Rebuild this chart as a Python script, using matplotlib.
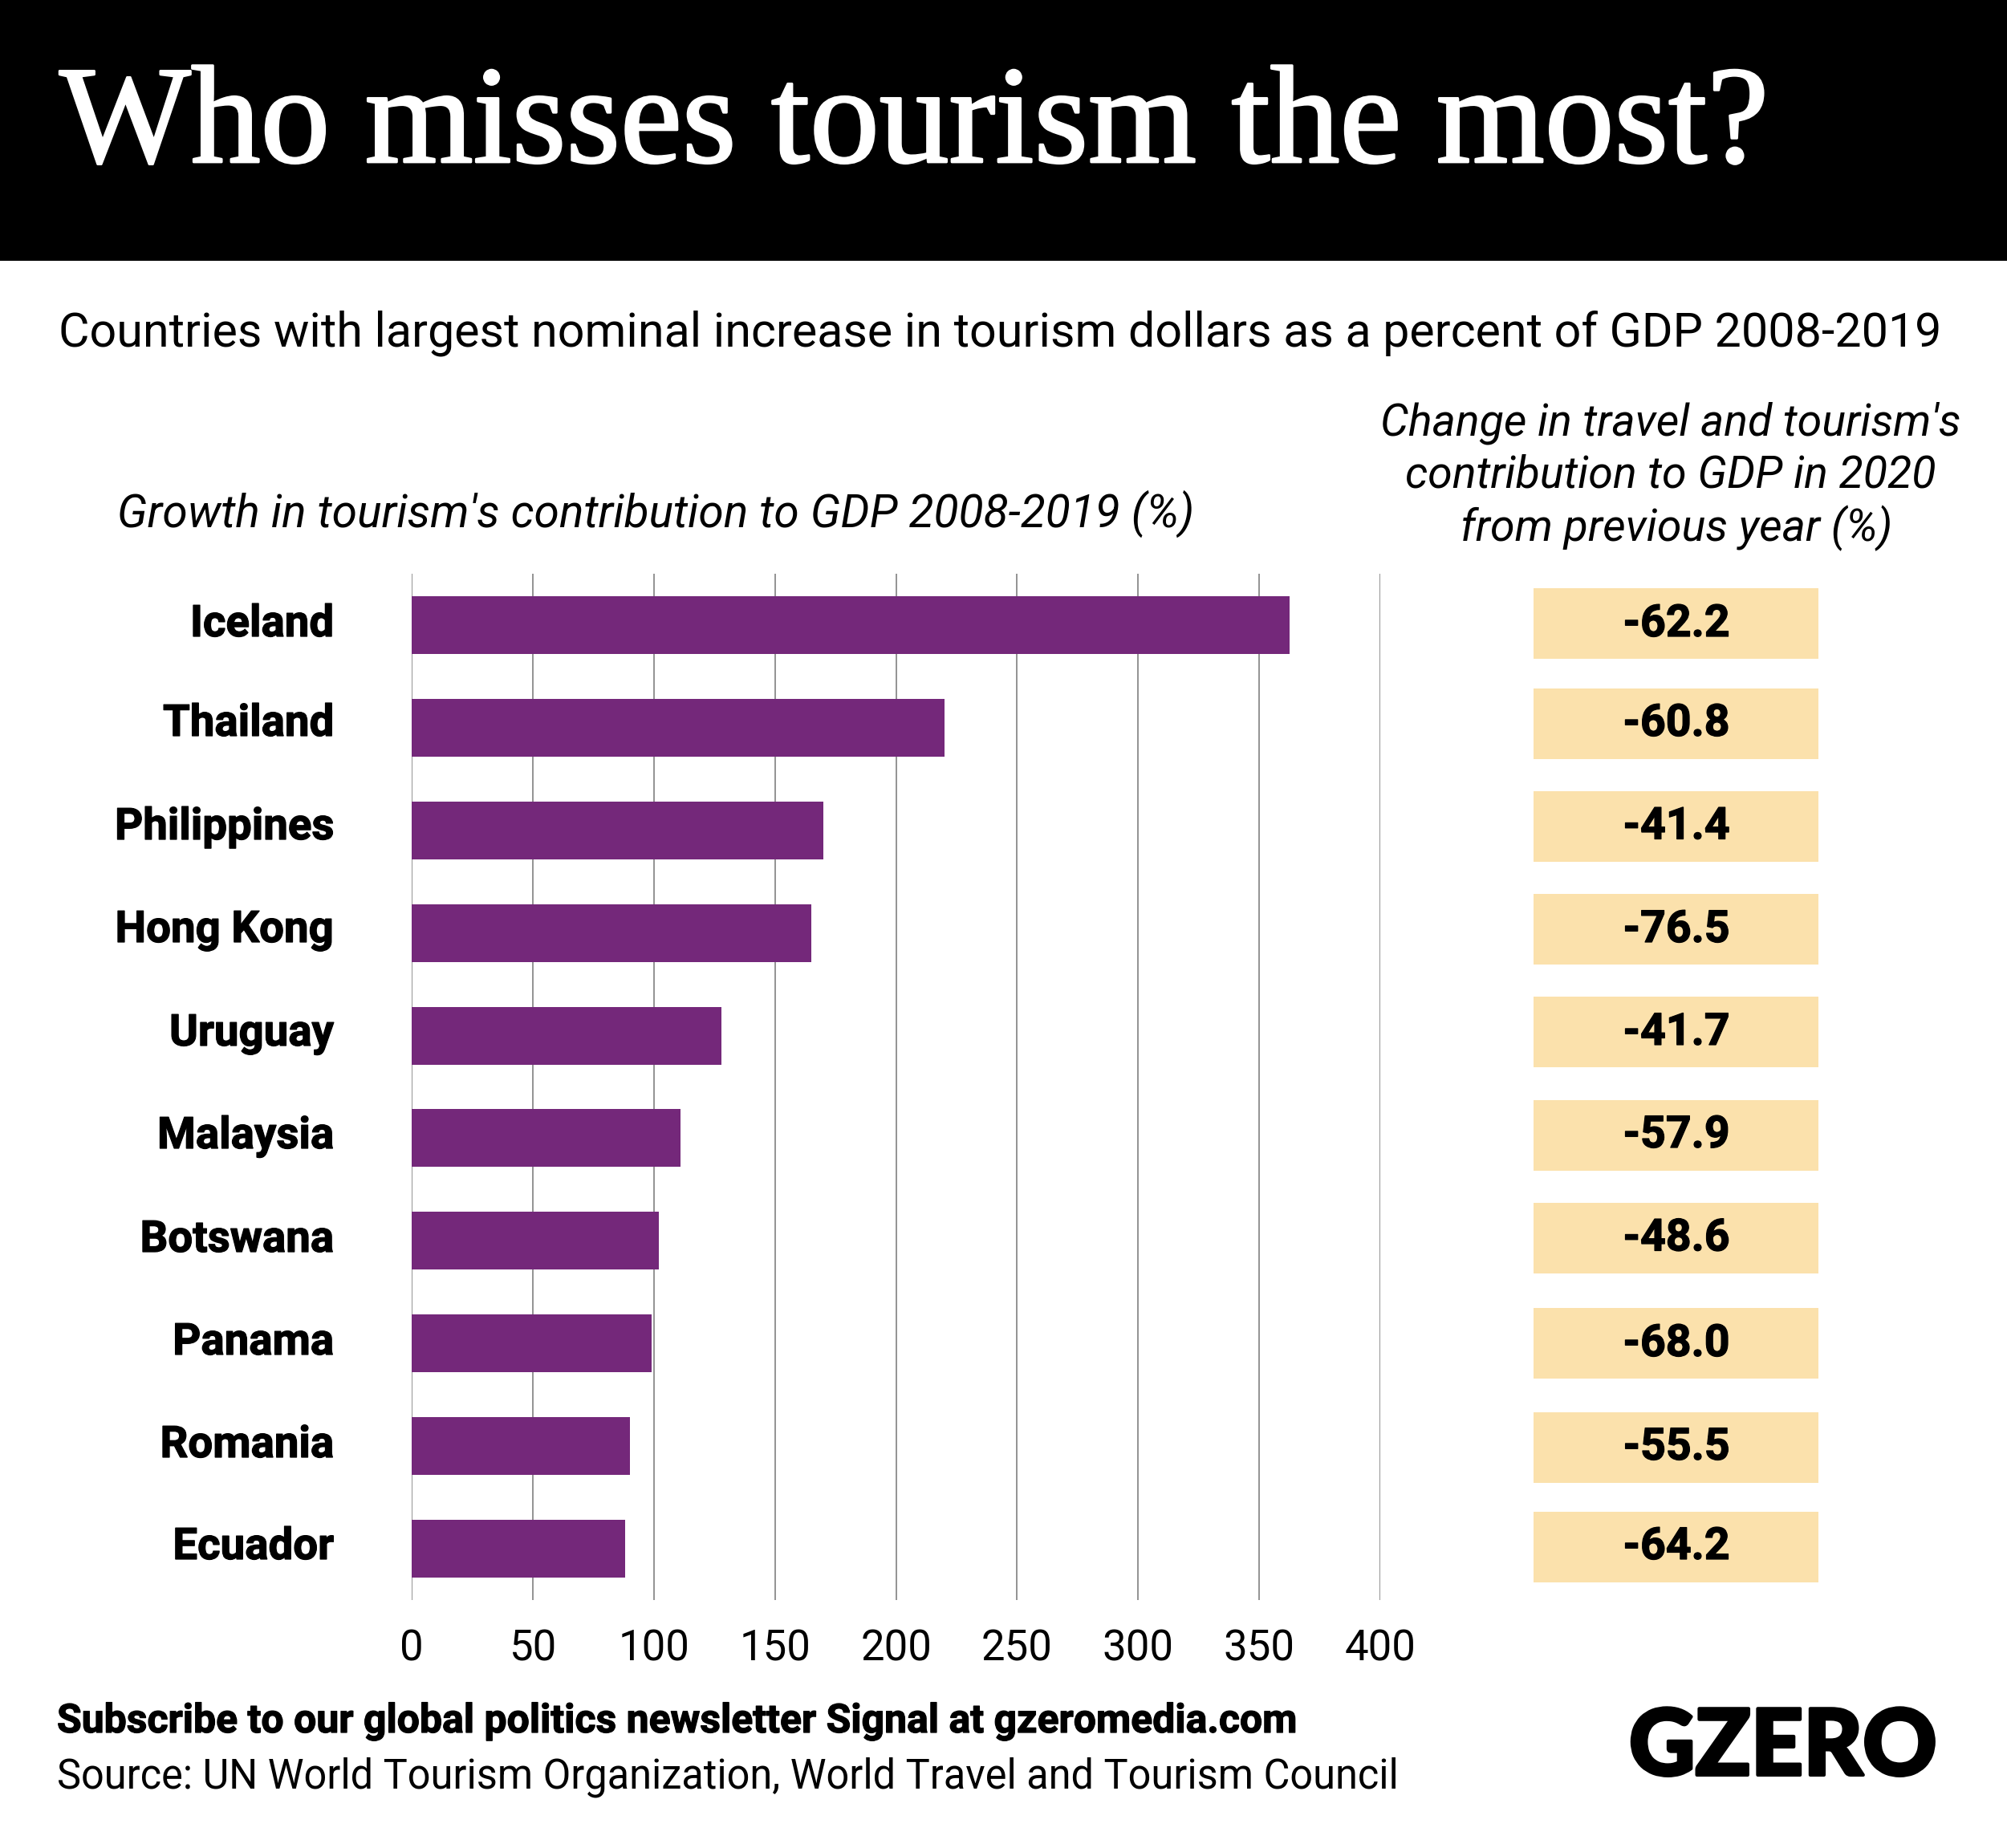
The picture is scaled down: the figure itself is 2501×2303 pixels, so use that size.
import matplotlib
matplotlib.use("Agg")
import matplotlib.pyplot as plt
import matplotlib.patheffects as pe
from matplotlib.font_manager import FontProperties
from matplotlib.patches import Rectangle
from matplotlib.textpath import TextPath

# ---------- data ----------
countries = ["Iceland", "Thailand", "Philippines", "Hong Kong", "Uruguay",
             "Malaysia", "Botswana", "Panama", "Romania", "Ecuador"]
growth_2008_2019 = [362.5, 220, 170, 165, 128, 111, 102, 99, 90, 88]
change_2020 = [-62.2, -60.8, -41.4, -76.5, -41.7, -57.9, -48.6, -68.0, -55.5, -64.2]
x_ticks = [0, 50, 100, 150, 200, 250, 300, 350, 400]

title = "Who misses tourism the most?"
subtitle = "Countries with largest nominal increase in tourism dollars as a percent of GDP 2008-2019"
left_heading = "Growth in tourism's contribution to GDP 2008-2019 (%)"
right_heading = ["Change in travel and tourism's", "contribution to GDP in 2020", "from previous year (%)"]
signal = "Subscribe to our global politics newsletter Signal at gzeromedia.com"
source = "Source: UN World Tourism Organization, World Travel and Tourism Council"
logo = "GZERO"

# ---------- layout (pixels) ----------
W, H, DPI = 2501, 2303, 100
LABEL_BASE = [793, 917, 1046, 1174, 1303, 1431, 1560, 1688, 1816, 1943]
BOX_TOP = [733, 857.5, 985.5, 1114, 1242, 1370.5, 1499, 1630, 1760, 1883.5]
VALUE_BASE = [793, 917, 1045.5, 1174, 1302, 1430, 1558.5, 1690, 1819, 1943]
BOX_H, BOX_L, BOX_R = 88, 1911, 2266
PURPLE, CREAM = "#74287A", "#FBE1AC"
HEAD_X = [2082, 2082, 2089]
HEAD_BASE = [542, 607, 674]

plt.rcParams["font.family"] = ["Roboto", "DejaVu Sans"]
fig = plt.figure(figsize=(W / DPI, H / DPI), dpi=DPI, facecolor="white")


def fit(s, width, **kw):
    """Font size in points that makes s the given pixel width."""
    fp = FontProperties(**kw)
    w = TextPath((0, 0), s, size=100, prop=fp).get_extents().width
    return 100 * width / w * 72 / DPI


over = fig.add_axes([0, 0, 1, 1], zorder=3)
over.set_xlim(0, W)
over.set_ylim(H, 0)
over.axis("off")
over.patch.set_alpha(0)

under = fig.add_axes([0, 0, 1, 1], zorder=0)
under.set_xlim(0, W)
under.set_ylim(H, 0)
under.axis("off")
under.add_patch(Rectangle((0, 0), W, 324.5, color="black", lw=0))

heavy = [pe.withStroke(linewidth=0.9, foreground="black")]

# bar chart
ax = fig.add_axes([513.3 / W, 1 - 1994 / H, (1720 - 513.3) / W, (1994 - 715) / H], zorder=1)
ax.patch.set_alpha(0)
ypos = list(range(len(countries)))
ax.barh(ypos, growth_2008_2019, height=72 / 127.9, color=PURPLE, zorder=3)
ax.set_xlim(0, 400)
ax.set_ylim(9.5, -0.5)
ax.set_yticks([])
ax.set_xticks(x_ticks)
ax.grid(axis="x", color="#808080", lw=1.2, zorder=1)
ax.set_axisbelow(True)
for s in ax.spines.values():
    s.set_visible(False)
ax.tick_params(axis="x", length=0, pad=75 * 72 / DPI, labelsize=38)
for lab in ax.get_xticklabels():
    lab.set_va("baseline")

# header text
over.text(74, 202, title, color="white", family="Liberation Serif", va="baseline",
          fontsize=fit(title, 2123, family="Liberation Serif"),
          path_effects=[pe.withStroke(linewidth=2, foreground="white")])
over.text(73, 431, subtitle, va="baseline", color="black",
          fontsize=fit(subtitle, 2339, family="Roboto"))
over.text(146, 657, left_heading, va="baseline", style="italic", color="black",
          fontsize=fit(left_heading, 1334, family="Roboto", style="italic"))
rh_size = fit(right_heading[0], 719, family="Roboto", style="italic")
for line, hx, base in zip(right_heading, HEAD_X, HEAD_BASE):
    over.text(hx, base, line, ha="center", va="baseline", style="italic", fontsize=rh_size, color="black")

# country labels
lab_size = fit("Philippines", 268, family="Roboto", weight="bold")
for name, base in zip(countries, LABEL_BASE):
    over.text(416, base, name, ha="right", va="baseline", weight="bold", fontsize=lab_size,
              color="black", path_effects=heavy)

# right-hand table
val_size = fit("-62.2", 128, family="Roboto", weight="bold")
for v, top, base in zip(change_2020, BOX_TOP, VALUE_BASE):
    under.add_patch(Rectangle((BOX_L, top), BOX_R - BOX_L, BOX_H, color=CREAM, lw=0))
    over.text(2089, base, f"{v:.1f}", ha="center", va="baseline", weight="bold", fontsize=val_size,
              color="black", path_effects=heavy)

# footer
over.text(71, 2159, signal, va="baseline", weight="bold", color="black",
          fontsize=fit(signal, 1541, family="Roboto", weight="bold"), path_effects=heavy)
over.text(71, 2228, source, va="baseline", color="black",
          fontsize=fit(source, 1669, family="Roboto"))
over.text(2030, 2212, logo, va="baseline", family="Lato", weight="black", color="black",
          fontsize=fit(logo, 376, family="Lato", weight="black"),
          path_effects=[pe.withStroke(linewidth=3, foreground="black")])

fig.savefig("out.png", dpi=DPI, facecolor="white")
